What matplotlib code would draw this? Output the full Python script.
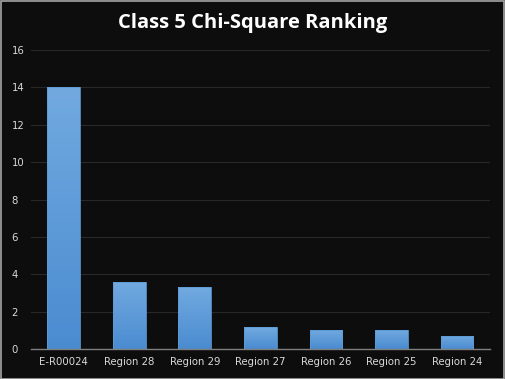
import matplotlib
matplotlib.use("Agg")
import matplotlib.pyplot as plt
import numpy as np
from matplotlib.colors import LinearSegmentedColormap
from matplotlib.patches import Rectangle

categories = ["E-R00024", "Region 28", "Region 29", "Region 27", "Region 26", "Region 25", "Region 24"]
scores = [14.0, 3.6, 3.3, 1.15, 1.02, 1.02, 0.7]
yticks = [0, 2, 4, 6, 8, 10, 12, 14, 16]

BG = "#0d0d0d"
TEXT = "#d9d9d9"

fig = plt.figure(figsize=(5.05, 3.79), dpi=100, facecolor=BG)
ax = fig.add_axes([0.0614, 0.0792, 0.9086, 0.7888], facecolor=BG)

x = np.arange(len(categories))
bars = ax.bar(x, scores, width=0.5, color="none", edgecolor="#5b9bd5", linewidth=0.6, zorder=3)

# vertical gradient inside each bar, darker at the base
cmap = LinearSegmentedColormap.from_list("blue", ["#4a8bd0", "#72aae0"])
grad = np.linspace(0, 1, 256).reshape(-1, 1)
for b in bars:
    x0, w, h = b.get_x(), b.get_width(), b.get_height()
    im = ax.imshow(grad, extent=(x0, x0 + w, 0, h), origin="lower", cmap=cmap,
                   aspect="auto", zorder=2)
    im.set_clip_path(b)

ax.set_xlim(-0.5, len(categories) - 0.5)
ax.set_ylim(0, 16)
ax.set_yticks(yticks)
ax.set_xticks(x)
ax.set_xticklabels(categories)
ax.tick_params(axis="both", colors=TEXT, labelsize=7.3, length=0, pad=6)
ax.tick_params(axis="y", pad=14)
for lbl in ax.get_yticklabels():
    lbl.set_horizontalalignment("left")
ax.grid(axis="y", color="#282828", linewidth=0.8, zorder=0)
ax.set_axisbelow(True)
for side in ("top", "right", "left"):
    ax.spines[side].set_visible(False)
ax.spines["bottom"].set_color("#7f7f7f")
ax.spines["bottom"].set_linewidth(1.0)
ax.spines["bottom"].set_zorder(4)

fig.text(0.5, 0.94, "Class 5 Chi-Square Ranking", ha="center", va="center",
         fontsize=14.5, fontweight="bold", color="white", family="Open Sans")

fig.patches.append(Rectangle((0.001, 0.001), 0.997, 0.997, transform=fig.transFigure,
                             fill=False, edgecolor="#a6a6a6", linewidth=1.2))

fig.savefig("out.png", dpi=100, facecolor=BG)
